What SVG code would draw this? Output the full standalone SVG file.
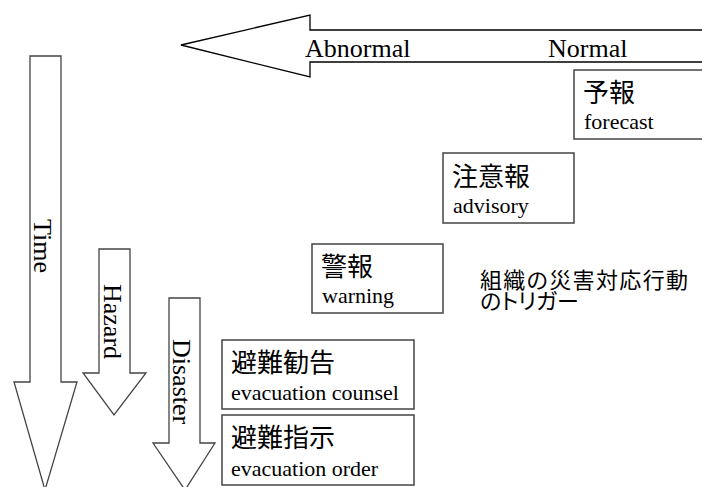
<svg xmlns="http://www.w3.org/2000/svg" width="702" height="487" viewBox="0 0 702 487">
<style>
.arrow{fill:#fff;stroke:#000;stroke-width:1.3}
.varrow{fill:#fff;stroke:#444;stroke-width:1.3}
.box{fill:#fff;stroke:#444;stroke-width:1.5}
.en{font-family:"Liberation Serif","Times New Roman",serif;fill:#000}
.big{font-size:26px}
.sm{font-size:22px}
.ja{font-family:"Noto Sans CJK JP",sans-serif;font-size:26px;fill:#000}
.note{font-family:"Noto Sans CJK JP",sans-serif;font-size:22px;fill:#000;font-feature-settings:"palt"}
</style>
<rect width="702" height="487" fill="#fff"/>
<g id="connectors">
<g id="axis-normal">
<polygon class="arrow" points="181,45 310,15 310,30 705,30 705,62 310,62 310,77"/>
<text class="en big" x="305" y="57">Abnormal</text>
<text class="en big" x="548" y="57">Normal</text>
</g>
<g id="axis-time">
<polygon class="varrow" points="30,56 61,56 61,382 77,382 45,490 14,382 30,382"/>
<text class="en big" transform="translate(34,219) rotate(90)">Time</text>
</g>
<g id="axis-hazard">
<polygon class="varrow" points="99,249 130,249 130,373 146,373 114,415 83,373 99,373"/>
<text class="en big" transform="translate(104,284) rotate(90)">Hazard</text>
</g>
<g id="axis-disaster">
<polygon class="varrow" points="169,298 200,298 200,443 215,443 185,490 153,443 169,443"/>
<text class="en big" transform="translate(173,339) rotate(90)">Disaster</text>
</g>
</g>
<g id="node-forecast">
<rect class="box" x="574" y="70" width="140" height="69"/>
<text class="ja" x="583" y="102">予報</text>
<text class="en sm" x="584" y="129">forecast</text>
</g>
<g id="node-advisory">
<rect class="box" x="443" y="153" width="131" height="70"/>
<text class="ja" x="452" y="186">注意報</text>
<text class="en sm" x="453" y="213">advisory</text>
</g>
<g id="node-warning">
<rect class="box" x="312" y="244" width="131" height="69"/>
<text class="ja" x="321" y="276">警報</text>
<text class="en sm" x="322" y="303">warning</text>
</g>
<g id="node-trigger">
<text class="note"><tspan x="480" y="288" textLength="208">組織の災害対応行動</tspan><tspan x="480" y="309">のトリガー</tspan></text>
</g>
<g id="node-counsel">
<rect class="box" x="222" y="340" width="192" height="69"/>
<text class="ja" x="231" y="372">避難勧告</text>
<text class="en sm" x="231" y="400">evacuation counsel</text>
</g>
<g id="node-order">
<rect class="box" x="222" y="415" width="192" height="70"/>
<text class="ja" x="231" y="447">避難指示</text>
<text class="en sm" x="231" y="476">evacuation order</text>
</g>
</svg>
